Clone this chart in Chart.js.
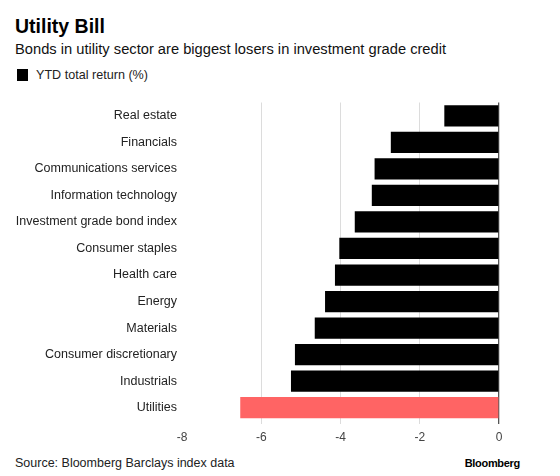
<!DOCTYPE html>
<html>
<head>
<meta charset="utf-8">
<script src="https://cdn.jsdelivr.net/npm/chart.js@4"></script>
<style>
  body { margin: 0; background: #fff; font-family: 'Liberation Sans', Arial, sans-serif; color: #000; }
  .page { position: relative; width: 560px; height: 476px; overflow: hidden; }
  .title { position: absolute; left: 15px; top: 15px; font-size: 19.5px; font-weight: bold; }
  .subtitle { position: absolute; left: 15px; top: 40.5px; font-size: 14.7px; color: #111; }
  .legend { position: absolute; left: 17px; top: 68px; font-size: 12.6px; color: #222; display: flex; align-items: center; }
  .legend-box { width: 11px; height: 12px; background: #000; margin-right: 8px; }
  .chart-wrap { position: absolute; left: 0; top: 90px; width: 512px; height: 362px; }
  .source { position: absolute; left: 15px; top: 455.5px; font-size: 12.5px; color: #222; }
  .brand { position: absolute; right: 40px; top: 457px; font-size: 11px; font-weight: bold; letter-spacing: -0.3px; }
</style>
</head>
<body>
<div class="page">
  <div class="title">Utility Bill</div>
  <div class="subtitle">Bonds in utility sector are biggest losers in investment grade credit</div>
  <div class="legend"><span class="legend-box"></span>YTD total return (%)</div>
  <div class="chart-wrap"><canvas id="chart"></canvas></div>
  <div class="source">Source: Bloomberg Barclays index data</div>
  <div class="brand">Bloomberg</div>
</div>
<script>
const sectors = [
  'Real estate', 'Financials', 'Communications services', 'Information technology',
  'Investment grade bond index', 'Consumer staples', 'Health care', 'Energy',
  'Materials', 'Consumer discretionary', 'Industrials', 'Utilities'
];
const ytdReturn = [-1.38, -2.73, -3.14, -3.21, -3.64, -4.03, -4.14, -4.39, -4.65, -5.15, -5.25, -6.53];
const xTicks = [-8, -6, -4, -2, 0];

const barColors = sectors.map(s => s === 'Utilities' ? '#ff6464' : '#000000');

new Chart(document.getElementById('chart'), {
  type: 'bar',
  data: {
    labels: sectors,
    datasets: [{
      label: 'YTD total return (%)',
      data: ytdReturn,
      backgroundColor: barColors,
      borderWidth: 0,
      barPercentage: 0.8,
      categoryPercentage: 1,
    }]
  },
  options: {
    indexAxis: 'y',
    responsive: true,
    maintainAspectRatio: false,
    animation: false,
    layout: { padding: { top: 7, right: 13, left: 0, bottom: 0 } },
    plugins: { legend: { display: false }, tooltip: { enabled: false } },
    scales: {
      x: {
        min: -8,
        max: 0,
        afterBuildTicks: (scale) => { scale.ticks = xTicks.map(v => ({ value: v })); },
        border: { display: false },
        grid: {
          color: (ctx) => ctx.tick?.value === 0 ? '#555' : ctx.tick?.value === -8 ? 'rgba(0,0,0,0)' : '#dcdcdc',
          lineWidth: (ctx) => ctx.tick?.value === 0 ? 1.3 : 1,
          tickLength: 3,
        },
        ticks: { color: '#444', font: { family: 'Liberation Sans', size: 12 }, padding: 6 },
        afterFit: (scale) => { scale.height = 31; },
      },
      y: {
        border: { display: false },
        grid: { display: false, drawTicks: false },
        ticks: { color: '#222', font: { family: 'Liberation Sans', size: 12.5 }, padding: 5 },
        afterFit: (scale) => { scale.width = 182; },
      }
    }
  }
});
</script>
</body>
</html>
